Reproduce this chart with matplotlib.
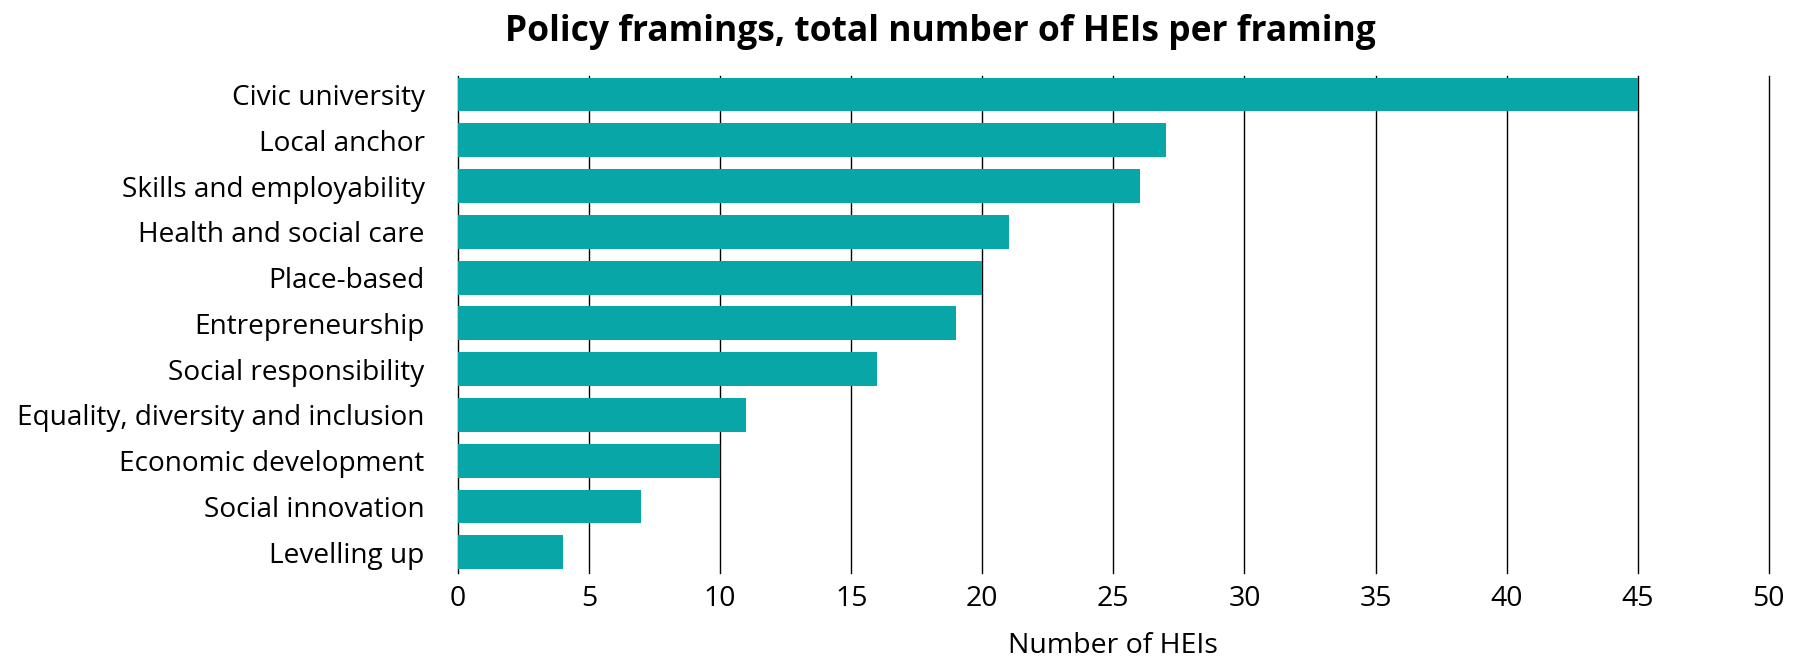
import numpy as np
import matplotlib
matplotlib.use("Agg")
import matplotlib.pyplot as plt

# Policy framings and number of HEIs per framing
framings = ["Civic university", "Local anchor", "Skills and employability",
            "Health and social care", "Place-based", "Entrepreneurship",
            "Social responsibility", "Equality, diversity and inclusion",
            "Economic development", "Social innovation", "Levelling up"]
counts = [45, 27, 26, 21, 20, 19, 16, 11, 10, 7, 4]
xticks = [0, 5, 10, 15, 20, 25, 30, 35, 40, 45, 50]

bar_color = "#09a6a7"

plt.rcParams['font.family'] = ['Open Sans', 'DejaVu Sans']

fig = plt.figure(figsize=(18.08, 6.57), dpi=100)
ax = fig.add_axes([0.2533, 0.128, 0.725, 0.756])

y = np.arange(len(framings))
ax.barh(y, counts, height=0.74, color=bar_color, zorder=2)

ax.set_xlim(0, 50)
ax.set_ylim(len(framings) - 0.55, -0.4)
ax.set_xticks(xticks)
ax.set_yticks(y)
ax.set_yticklabels(framings, fontsize=20.2)
ax.tick_params(axis='x', labelsize=20.5, length=0, pad=9)
ax.tick_params(axis='y', length=0, pad=24)
ax.grid(True, axis='x', color='black', linewidth=1.0, zorder=1)
for gl in ax.get_xgridlines():
    gl.set_clip_on(False)
for s in ax.spines.values():
    s.set_visible(False)

ax.set_xlabel("Number of HEIs", fontsize=20.5)
ax.xaxis.set_label_coords(0.5, -0.118)

fig.suptitle("Policy framings, total number of HEIs per framing",
             fontsize=25.5, fontweight='bold', x=0.52, y=0.978)

fig.savefig("out.png", dpi=100)
